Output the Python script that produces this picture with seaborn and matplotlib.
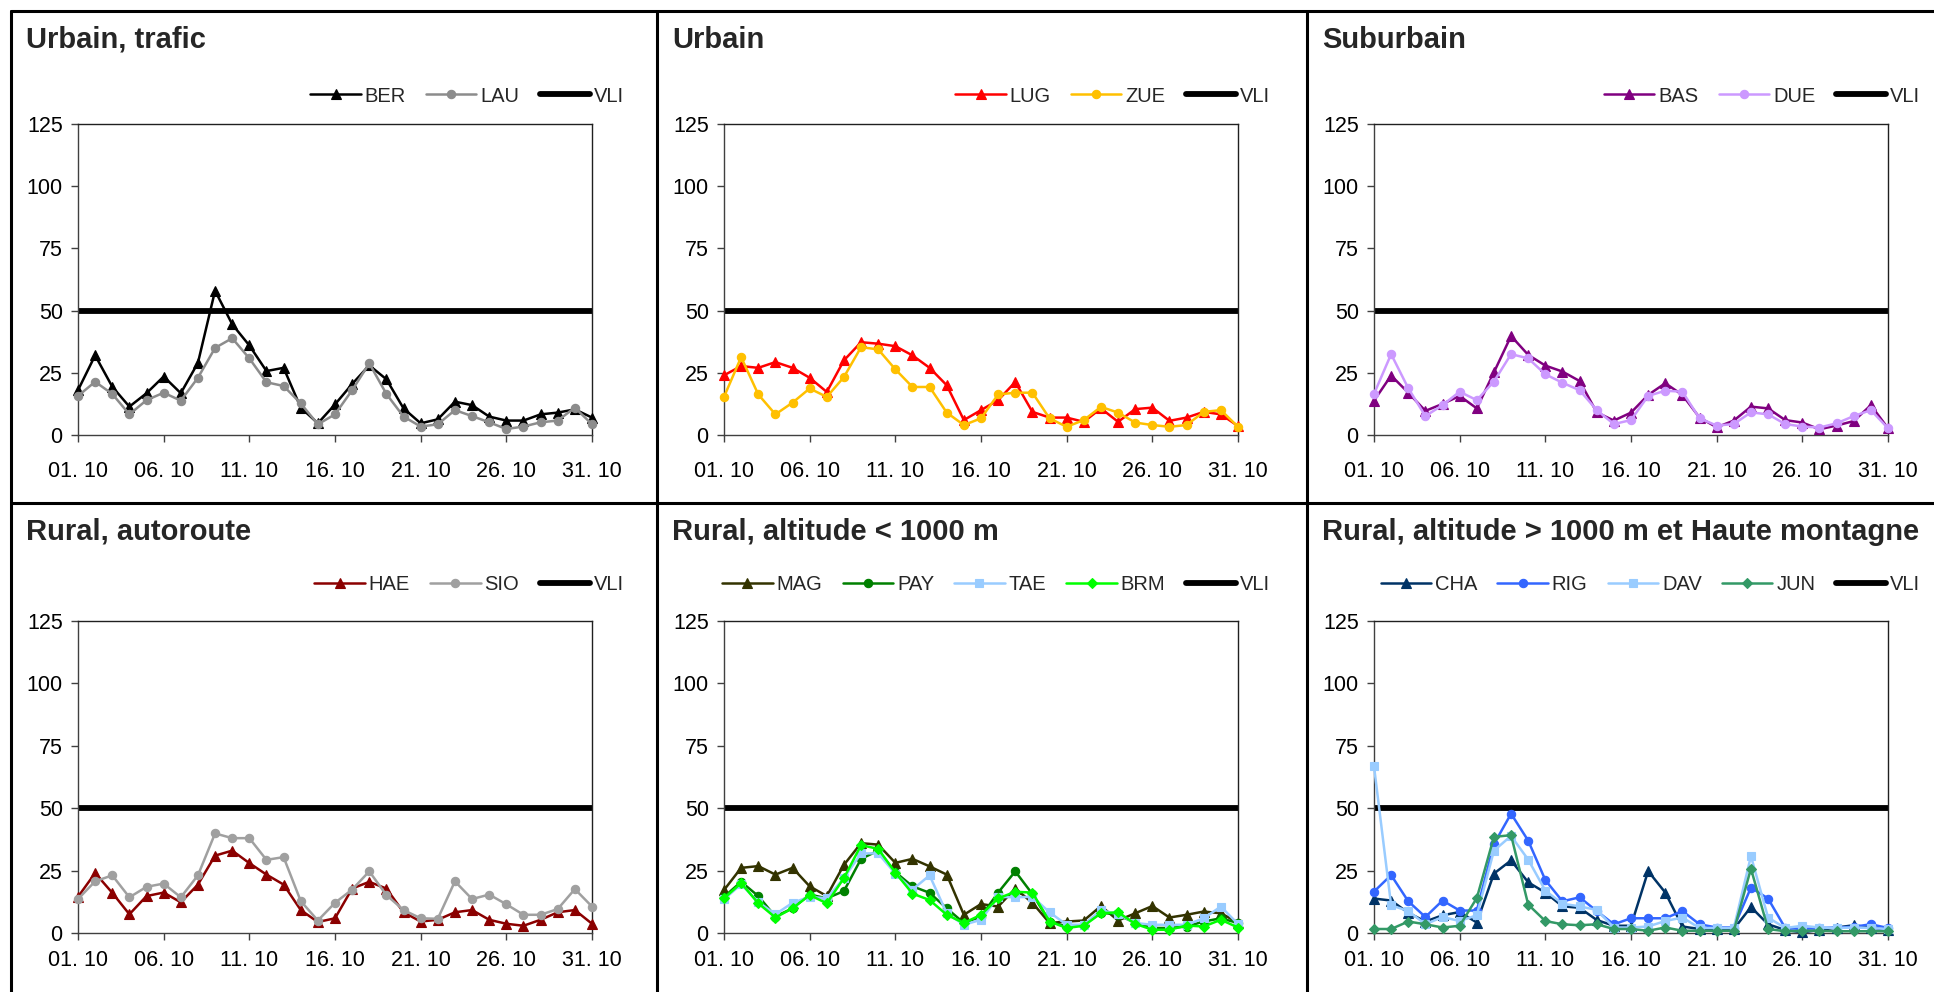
import matplotlib
matplotlib.use("Agg")
import matplotlib.pyplot as plt
from matplotlib.lines import Line2D
import seaborn as sns

sns.set_style("white")
plt.rcParams['font.family'] = ['Liberation Sans', 'DejaVu Sans']

# days of October
DAYS = list(range(1, 32))
TICK_DAYS = [1, 6, 11, 16, 21, 26, 31]
TICK_LABELS = [f"{d:02d}. 10" for d in TICK_DAYS]
Y_TICKS = [0, 25, 50, 75, 100, 125]
VLI = 50

# Urbain, trafic
BER = [18, 32, 19.4, 11.4, 16.8, 23.5, 16.8, 29, 58, 44.5, 36, 25.7, 27, 11, 4.7, 12.3,
       20.5, 28, 22.4, 10.7, 4.7, 6.3, 13.4, 12, 7.4, 5.8, 5.8, 8.3, 9, 10.3, 7]
LAU = [15.7, 21.4, 16.5, 8.3, 14, 17, 13.8, 23, 35, 38.9, 30.8, 21.2, 19.7, 12.7, 4.3, 8.3,
       18, 28.8, 16.5, 7.4, 3.4, 4.3, 10, 7.6, 5.1, 2.4, 3.4, 5.1, 5.8, 11, 4.3]
# Urbain
LUG = [24, 27.7, 27, 29.3, 27, 23, 17.3, 30, 37.3, 36.7, 35.7, 32, 27, 20, 6, 10,
       14, 21.3, 9.3, 7, 7, 5.3, 10.7, 5.3, 10.4, 11, 5.7, 7, 9.3, 8.3, 3.6]
ZUE = [15.3, 31.3, 16.3, 8.3, 13, 18.7, 15.3, 23.3, 35.3, 34.4, 26.4, 19.3, 19.3, 9, 4, 6.7,
       16.3, 17, 17, 6.7, 3.3, 6, 11.3, 9, 5, 4, 3.3, 4, 9.3, 10, 3.3]
# Suburbain
BAS = [13.8, 23.9, 17, 9.7, 12.5, 15.7, 10.7, 25.2, 39.8, 32.2, 27.9, 25.5, 21.7, 9.1, 5.8, 9,
       16.1, 20.8, 16.1, 7, 3.1, 5.8, 11.4, 10.7, 6, 5, 2.3, 3.8, 5.6, 12, 2.7]
DUE = [16.5, 32.5, 18.8, 7.6, 12, 17.4, 14, 21.5, 32.5, 30.8, 24.4, 21, 18, 10, 4.4, 6,
       15.7, 17.8, 17.4, 6.7, 3.8, 4.4, 9.1, 8.3, 4.4, 3.4, 3, 4.7, 7.6, 10, 2.7]
# Rural, autoroute
HAE = [14.5, 24, 16.1, 7.5, 14.8, 16.2, 12.3, 19.4, 31, 33, 28, 23.4, 19.4, 9.2, 4.4, 5.9,
       17.8, 20.5, 17.8, 8.3, 4.6, 5.3, 8.3, 9.2, 5.3, 3.7, 2.9, 5.3, 8.3, 9.2, 3.7]
SIO = [13.6, 20.7, 23.1, 14.3, 18.5, 19.8, 14.3, 23.1, 39.9, 38, 38, 29.3, 30.4, 12.8, 5, 12.1,
       17.4, 24.7, 15.2, 9.2, 5.9, 5.7, 20.7, 13.6, 15.4, 11.5, 7.3, 7.3, 9.6, 17.6, 10.6]
# Rural, altitude < 1000 m
MAG = [17.2, 26.1, 26.8, 23.4, 26.1, 18.7, 14.8, 27.3, 36, 35.4, 28.1, 29.7, 26.7, 23.4, 7.3, 11.6,
       10.6, 17.8, 12.1, 4, 4.6, 5, 10.8, 5, 7.9, 10.8, 6.2, 7.3, 8.6, 7.9, 4.2]
PAY = [14.5, 20.5, 14.8, 6.6, 9.9, 15.4, 13.9, 16.8, 29.7, 33, 24.4, 18.7, 16.1, 9.9, 4, 6.6,
       16.2, 24.7, 15.6, 4.6, 2.6, 3.3, 8.2, 7.3, 4, 2, 2, 2.6, 4.6, 5.9, 4]
TAE = [13.5, 19.5, 12.5, 7.5, 12.1, 14.5, 13.9, 22, 31.9, 31.9, 23.8, 17.4, 23.1, 7.9, 3.3, 5.3,
       14.5, 14.3, 14.5, 8.3, 3.3, 3.3, 9.2, 7.5, 4, 3.3, 3.3, 3.3, 5.9, 10.6, 3.6]
BRM = [13.9, 20, 11.9, 6.2, 9.9, 15.2, 11.9, 22, 35.2, 33.7, 24.2, 15.8, 13.2, 7.3, 4, 7.3,
       13.9, 16.5, 16.2, 4.6, 2, 2.9, 7.9, 8.3, 3.7, 1.3, 1.3, 3, 2.6, 5.3, 2.2]
# Rural, altitude > 1000 m et Haute montagne
CHA = [13.8, 13, 8.1, 4.6, 7.1, 8.4, 4.2, 23.8, 29.1, 20.3, 16.2, 10.7, 10.1, 5.2, 2.9, 2.9,
       24.8, 16.2, 2.6, 1.6, 1.6, 1.6, 10.4, 3.5, 1.2, 0.3, 1.2, 2.2, 3.1, 2.2, 1.2]
RIG = [16.6, 23.2, 12.7, 6.4, 13, 9, 9, 35.6, 47.8, 37, 21.2, 12.7, 14.3, 8.8, 3.5, 5.9,
       5.9, 5.9, 8.8, 3.5, 2.2, 2.2, 18.2, 13.8, 2, 1.6, 2, 2.2, 2.5, 3.5, 2]
DAV = [66.8, 11.1, 8.8, 3.5, 6.4, 4.8, 7.1, 33, 38.9, 29.4, 17, 11.7, 10.7, 9.2, 2.2, 2.2,
       2.6, 4.8, 6.2, 2, 2, 2, 30.8, 6.2, 2, 2.9, 2.2, 2, 2.2, 2, 1.6]
JUN = [1.6, 1.6, 4.6, 3.5, 2.2, 2.9, 14, 38.5, 39.2, 11.4, 4.8, 3.5, 3.1, 3.5, 1.6, 1.6,
       0.9, 2.2, 0.9, 0.9, 0.9, 0.9, 25.8, 1.6, 0.7, 0.9, 0.9, 0.7, 0.7, 0.7, 0.7]

PANELS = [
    ("Urbain, trafic", [("BER", BER, "#000000", "^"), ("LAU", LAU, "#8c8c8c", "o")]),
    ("Urbain", [("LUG", LUG, "#ff0000", "^"), ("ZUE", ZUE, "#ffc000", "o")]),
    ("Suburbain", [("BAS", BAS, "#800080", "^"), ("DUE", DUE, "#cc99ff", "o")]),
    ("Rural, autoroute", [("HAE", HAE, "#8b0000", "^"), ("SIO", SIO, "#a0a0a0", "o")]),
    ("Rural, altitude < 1000 m", [("MAG", MAG, "#333300", "^"), ("PAY", PAY, "#008000", "o"),
                                  ("TAE", TAE, "#99ccff", "s"), ("BRM", BRM, "#00ff00", "D")]),
    ("Rural, altitude > 1000 m et Haute montagne",
     [("CHA", CHA, "#003366", "^"), ("RIG", RIG, "#3366ff", "o"),
      ("DAV", DAV, "#99ccff", "s"), ("JUN", JUN, "#339966", "D")]),
]

W, H = 1934, 992
fig = plt.figure(figsize=(W / 100, H / 100), dpi=100)

MSIZE = {"^": 7.5, "o": 6, "s": 6, "D": 5.5}

col_left = [11, 657, 1307]
row_top = [11, 503]
ax_left_off, ax_w = 67, 514
row_axes = [(124, 435), (621, 933)]
legend_y = [96, 585]
xpad = [14, 7]


def fx(px):
    return px / W


def fy(px):
    return 1 - px / H


for i, (title, series) in enumerate(PANELS):
    r, c = divmod(i, 3)
    x0 = col_left[c] + ax_left_off
    top, bot = row_axes[r]
    ax = fig.add_axes([fx(x0), fy(bot), ax_w / W, (bot - top) / H])

    for name, vals, color, mk in series:
        sns.lineplot(x=DAYS, y=vals, ax=ax, color=color, marker=mk,
                     markersize=MSIZE[mk], markeredgecolor=color, markeredgewidth=0.8,
                     linewidth=1.8, label=name, clip_on=False, zorder=3)
    ax.axhline(VLI, color="black", linewidth=4.2, label="VLI", zorder=2)

    ax.set_xlim(1, 31)
    ax.set_ylim(0, 125)
    ax.set_xticks(TICK_DAYS)
    ax.set_xticklabels(TICK_LABELS)
    ax.set_yticks(Y_TICKS)
    ax.set_xlabel("")
    ax.set_ylabel("")
    ax.tick_params(axis="both", which="both", direction="out", length=5, width=1,
                   color="#404040", labelsize=15.5, labelcolor="black")
    ax.tick_params(axis="x", pad=xpad[r])
    ax.tick_params(axis="y", pad=6)
    ax.tick_params(left=True, bottom=True)
    for side, sp in ax.spines.items():
        sp.set_visible(True)
        sp.set_linewidth(1.0)
        sp.set_color("#404040" if side in ("left", "bottom") else "#202020")

    ax.legend(loc="center right", bbox_to_anchor=(fx(x0 + ax_w + 32), fy(legend_y[r])),
              bbox_transform=fig.transFigure, ncol=len(series) + 1, frameon=False,
              fontsize=14.5, handlelength=2.5, handletextpad=0.2,
              columnspacing=1.0, borderaxespad=0, borderpad=0)

    fig.text(fx(col_left[c] + 15), fy(row_top[r] + 29), title, fontsize=21,
             fontweight="bold", ha="left", va="center")

# panel frame lines
lw = 2.2
fig.add_artist(Line2D([fx(11), fx(11)], [0, fy(11)], transform=fig.transFigure, color="black", lw=lw))
fig.add_artist(Line2D([fx(11), 1], [fy(11), fy(11)], transform=fig.transFigure, color="black", lw=lw))
fig.add_artist(Line2D([fx(11), 1], [fy(503), fy(503)], transform=fig.transFigure, color="black", lw=lw))
for xv in (657, 1307):
    fig.add_artist(Line2D([fx(xv), fx(xv)], [0, fy(11)], transform=fig.transFigure, color="black", lw=lw))

fig.savefig("out.png", dpi=100, facecolor="white")
